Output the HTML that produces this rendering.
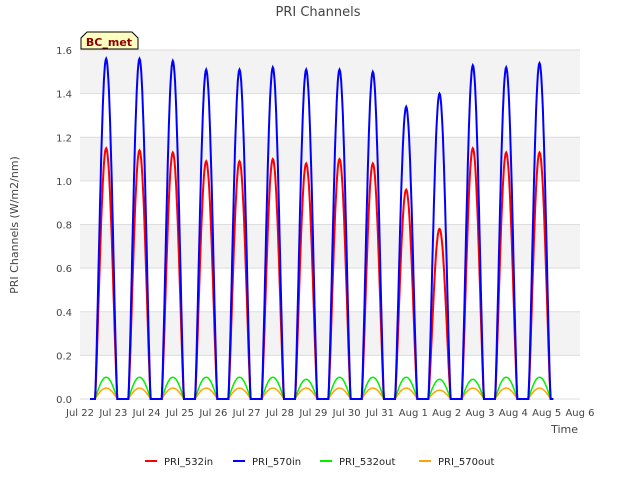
<!DOCTYPE html>
<html><head><meta charset="utf-8"><style>
body{margin:0;background:#fff;font-family:"Liberation Sans","DejaVu Sans",sans-serif}
svg text{font-family:"DejaVu Sans","Liberation Sans",sans-serif}
</style></head><body>
<svg id="c" width="640" height="480" viewBox="0 0 640 480" xmlns="http://www.w3.org/2000/svg">
<rect width="640" height="480" fill="#fff"/>
<g id="bands"></g>
<g id="grid"></g>
<g id="series"></g>
<g id="axes"></g>
<text x="318" y="16" text-anchor="middle" font-size="13" fill="#444">PRI Channels</text>
<text transform="translate(18,225) rotate(-90)" text-anchor="middle" font-size="11" fill="#444">PRI Channels (W/m2/nm)</text>
<text x="578" y="433" text-anchor="end" font-size="11" fill="#444">Time</text>
<g>
<path d="M81,49 L81,38 L87,32 L132,32 L138,38 L138,49 Z" fill="#ffffc0" stroke="#000" stroke-width="1"/>
<text x="109" y="46" text-anchor="middle" font-size="11" font-weight="bold" fill="#8b0000">BC_met</text>
</g>
<g id="legend"></g>
</svg>
<script>
const dayLabels=["Jul 22","Jul 23","Jul 24","Jul 25","Jul 26","Jul 27","Jul 28","Jul 29","Jul 30","Jul 31","Aug 1","Aug 2","Aug 3","Aug 4","Aug 5","Aug 6"];
const yTicks=[0.0,0.2,0.4,0.6,0.8,1.0,1.2,1.4,1.6];
const peak532in=[1.15,1.14,1.13,1.09,1.09,1.10,1.08,1.10,1.08,0.96,0.78,1.15,1.13,1.13];
const peak570in=[1.56,1.56,1.55,1.51,1.51,1.52,1.51,1.51,1.50,1.34,1.40,1.53,1.52,1.54];
const peak532out=[0.10,0.10,0.10,0.10,0.10,0.10,0.09,0.10,0.10,0.10,0.09,0.09,0.10,0.10];
const peak570out=[0.05,0.05,0.05,0.05,0.05,0.05,0.05,0.05,0.05,0.05,0.04,0.05,0.05,0.05];
const X0=80,X1=580,Y0=399,Y1=50;
const xs=d=>X0+(X1-X0)*d/15;
const ys=v=>Y0-(Y0-Y1)*v/1.6;
const NS="http://www.w3.org/2000/svg";
function mk(tag,attrs,parent){const e=document.createElementNS(NS,tag);for(const k in attrs)e.setAttribute(k,attrs[k]);parent.appendChild(e);return e;}
const bands=document.getElementById('bands'),grid=document.getElementById('grid'),axes=document.getElementById('axes'),series=document.getElementById('series'),legend=document.getElementById('legend');
mk('rect',{x:X0,y:Y1,width:X1-X0,height:Y0-Y1,fill:'#fff'},bands);
for(let i=1;i<yTicks.length;i+=2){
  const b=mk('rect',{x:X0,y:ys(yTicks[i+1]!==undefined?yTicks[i+1]:1.6),width:X1-X0,height:ys(yTicks[i])-ys(yTicks[i+1]),fill:'#f3f3f3'},bands);
  
  
}
yTicks.forEach(v=>{
  const l=mk('line',{x1:X0,x2:X1,y1:ys(v),y2:ys(v),stroke:'#ddd','stroke-width':1},grid);
  
  
  const t=mk('text',{x:X0-8,y:ys(v)+4,'text-anchor':'end','font-size':10,fill:'#444'},axes);
  t.textContent=v.toFixed(1);
  
  
});
dayLabels.forEach((s,i)=>{
  const t=mk('text',{x:xs(i),y:416,'text-anchor':'middle','font-size':10,fill:'#444'},axes);
  t.textContent=s;
  
  
});
function curve(peaks,shapePow,color,w,name){
  let pts=[[xs(0.3),ys(0)]];
  peaks.forEach((p,i)=>{
    const s=i+0.45,e=i+1.12;
    pts.push([xs(s),ys(0)]);
    for(let k=0;k<=40;k++){const t=k/40;const v=p*Math.pow(Math.sin(Math.PI*t),shapePow);pts.push([xs(s+(e-s)*t),ys(v)]);}
  });
  pts.push([xs(14.2),ys(0)]);
  const pl=mk('polyline',{points:pts.map(p=>p[0].toFixed(1)+','+p[1].toFixed(1)).join(' '),fill:'none',stroke:color,'stroke-width':w},series);
  
  
}
curve(peak570out,1.0,'#ffa500',1.5,'series-pri-570out');
curve(peak532out,1.0,'#00ee00',1.5,'series-pri-532out');
curve(peak532in,1.3,'#ff0000',2,'series-pri-532in');
curve(peak570in,1.3,'#0000ff',2,'series-pri-570in');
const legItems=[["PRI_532in","#ff0000",145],["PRI_570in","#0000ff",233],["PRI_532out","#00ee00",320],["PRI_570out","#ffa500",419]];
legItems.forEach(it=>{
  const g=mk('g',{},legend);
  
  
  mk('line',{x1:it[2],x2:it[2]+12,y1:461,y2:461,stroke:it[1],'stroke-width':2},g);
  const t=mk('text',{x:it[2]+19,y:465,'font-size':10,fill:'#222'},g);
  t.textContent=it[0];
});
</script>
</body></html>
